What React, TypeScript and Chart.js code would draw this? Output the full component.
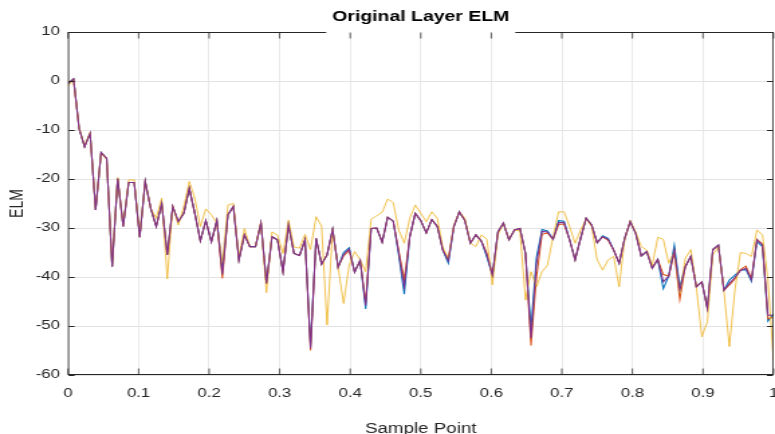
import React, { useEffect, useRef } from 'react';
import { Chart, registerables } from 'chart.js';

Chart.register(...registerables);

const titleText = 'Original Layer ELM';
const xLabel = 'Sample Point';
const yLabel = 'ELM';
const sampleCount = 129;
const samplePoints = Array.from({ length: sampleCount }, (_, i) => i / (sampleCount - 1));

const series1Blue = [
  -0.5, 0.4, -9.7, -13.4, -10.7, -26.3, -14.6, -15.8, -37.9, -19.9,
  -29.7, -20.7, -20.7, -31.9, -20.5, -26, -29.7, -25, -35.5, -25.6,
  -28.7, -27, -21.9, -27, -32.6, -28.5, -32.8, -28.5, -38.5, -27.3,
  -25.6, -36.5, -31.4, -33.8, -33.8, -29, -41.3, -31.8, -32.4, -38.9,
  -29.4, -35.2, -35.6, -32.4, -54, -32.1, -37.4, -35.5, -30.3, -38,
  -35, -34, -39, -36.6, -46.5, -30.1, -30, -32.9, -27.8, -28.6,
  -35.5, -43.5, -31.8, -27, -28.5, -31, -28.3, -29.7, -34.5, -37.2,
  -29.7, -26.7, -28.5, -33.1, -31.4, -32.7, -36, -39.6, -30.8, -29,
  -32.4, -30.4, -30.1, -35.2, -50.5, -36, -30.3, -30.6, -32.3, -28.5,
  -28.6, -32.4, -36.5, -32.1, -28, -29.4, -33, -31.6, -32.1, -34.5,
  -37.2, -32.1, -28.7, -31.1, -35.7, -34.8, -38.2, -36.4, -42.4, -39.8,
  -33.5, -42, -37.9, -35.8, -42, -41, -46.4, -34.4, -33.5, -42.7,
  -40.6, -39.6, -38.6, -38.5, -40.9, -32.8, -33.8, -49, -47.5
];

const series2Red = [
  -0.5, 0.4, -9.7, -13.4, -10.7, -26.3, -14.6, -15.8, -37.9, -19.9,
  -29.7, -20.7, -20.7, -31.9, -20.5, -26, -29.7, -25, -35.5, -25.6,
  -28.7, -27, -21.9, -27, -32.6, -28.5, -32.8, -28.5, -40.3, -27.3,
  -25.6, -36.5, -31.4, -33.8, -33.8, -29, -41.3, -31.8, -32.4, -38.9,
  -29.4, -35.2, -35.6, -32.4, -55, -32.1, -37.4, -35.5, -30.3, -38,
  -35.7, -34.6, -39, -36.6, -45.2, -30.1, -30, -32.9, -27.8, -28.6,
  -34.6, -40.5, -31.8, -27, -28.5, -31, -28.3, -29.7, -34.5, -36.2,
  -29.7, -26.7, -28.5, -33.1, -31.4, -32.7, -35.2, -39.6, -30.8, -29,
  -32.4, -30.4, -30.1, -35.2, -54, -40, -31.3, -31, -32.3, -29.3,
  -29.2, -32.4, -36.5, -32.1, -28, -29.4, -33, -31.8, -32.5, -34.5,
  -37.2, -32.1, -28.7, -31.1, -35.7, -34.8, -38.2, -36.4, -39.5, -39.8,
  -35, -44.6, -37.9, -35.8, -42, -41, -46.4, -34.4, -33.5, -42.7,
  -41.6, -40.4, -38.5, -37.8, -40.4, -32.3, -33.3, -48.5, -48.2
];

const series3Yellow = [
  -1, 0.2, -9.5, -13.2, -10.5, -26, -14.8, -16, -37.5, -19.7,
  -29.5, -20.2, -20.2, -31.5, -20.5, -26, -28, -23.9, -40.4, -25.6,
  -29.4, -25.6, -20.5, -23.9, -29.7, -26.1, -27.3, -29, -37.2, -25.3,
  -25, -35.8, -30.1, -33.8, -33.8, -28.7, -43.2, -30.8, -31.4, -35.2,
  -28.4, -33.9, -34.1, -31.3, -34.4, -27.7, -29.6, -49.8, -30.4, -37.9,
  -45.4, -37.6, -34.8, -36.5, -38.9, -28.2, -27.5, -26.8, -24.1, -24.8,
  -30.4, -33.1, -28, -25.3, -27, -28.7, -26.7, -28, -33.8, -36.5,
  -29.4, -26.7, -28, -33.1, -33.8, -31.4, -32.3, -41.6, -31.4, -29,
  -32.4, -30.4, -30.6, -44.7, -38.9, -42, -38.9, -37.6, -31.8, -26.7,
  -26.7, -29.7, -33.1, -30.4, -28.2, -29.7, -36.5, -38.6, -36.5, -35.8,
  -42, -32.4, -28.5, -30.8, -33.8, -34.5, -37.6, -31.9, -32.3, -37.2,
  -34.8, -43.3, -36.2, -34.4, -42, -52.2, -49.1, -35.5, -33.8, -42.7,
  -54.2, -42.7, -35, -35.2, -35.8, -30.4, -31.4, -40.6, -57
];

const series4Purple = [
  -0.5, 0.4, -9.7, -13.4, -10.7, -26.3, -14.6, -15.8, -37.9, -19.9,
  -29.7, -20.7, -20.7, -31.9, -20.5, -26, -29.7, -25, -35.5, -25.6,
  -28.7, -27, -21.9, -27, -32.6, -28.5, -32.8, -28.5, -39.5, -27.3,
  -25.6, -36.5, -31.4, -33.8, -33.8, -29, -41.3, -31.8, -32.4, -38.9,
  -29.4, -35.2, -35.6, -32.4, -54.6, -32.1, -37.4, -35.5, -30.3, -38,
  -35.4, -34.3, -39, -36.6, -45.8, -30.1, -30, -32.9, -27.8, -28.6,
  -35, -42, -31.8, -27, -28.5, -31, -28.3, -29.7, -34.5, -36.7,
  -29.7, -26.7, -28.5, -33.1, -31.4, -32.7, -35.5, -39.6, -30.8, -29,
  -32.4, -30.4, -30.1, -35.2, -52.5, -37.2, -30.7, -30.8, -32.3, -28.9,
  -28.9, -32.4, -36.5, -32.1, -28, -29.4, -33, -31.8, -32.3, -34.5,
  -37.2, -32.1, -28.7, -31.1, -35.7, -34.8, -38.2, -36.4, -41, -39.8,
  -34.5, -42.7, -37.9, -35.8, -42, -41, -46.4, -34.4, -33.5, -42.7,
  -41.3, -40.1, -38.7, -38.2, -40.6, -32.4, -33.5, -47.8, -47.8
];

const seriesColors = ['#0072BD', '#D95319', '#EDB120', '#7E2F8E'];

// The reference figure is stretched horizontally; reproduce with a narrower
// backing canvas that is displayed at full width.
const DISPLAY_W = 775;
const DISPLAY_H = 434;
const STRETCH = 1.34;
const CANVAS_W = Math.round(DISPLAY_W / STRETCH);

const toPoints = (vals: number[]) => vals.map((v, i) => ({ x: samplePoints[i], y: v }));

const boxPlugin = {
  id: 'matlabBox',
  afterDraw(chart: any) {
    const { ctx, chartArea } = chart;
    const { left, right, top, bottom } = chartArea;
    const xs = chart.scales.x;
    const ys = chart.scales.y;
    ctx.save();
    ctx.strokeStyle = '#262626';
    const T = Math.round(top) + 0.5;
    const B = Math.round(bottom) - 0.5;
    const L = left + 0.4;
    const R = right - 0.4;
    ctx.lineWidth = 1;
    ctx.beginPath();
    ctx.moveTo(left, T);
    ctx.lineTo(right, T);
    ctx.moveTo(left, B);
    ctx.lineTo(right, B);
    ctx.stroke();
    ctx.lineWidth = 0.8;
    ctx.beginPath();
    ctx.moveTo(L, top);
    ctx.lineTo(L, bottom);
    ctx.moveTo(R, top);
    ctx.lineTo(R, bottom);
    ctx.stroke();
    // title background covering part of the top axis line
    const tx = (left + right) / 2;
    ctx.fillStyle = '#ffffff';
    ctx.fillRect(tx - 70.5, T - 3, 141, 3.6);
    const tlv = 6;
    const tlh = 4.5;
    ctx.lineWidth = 0.75;
    ctx.beginPath();
    xs.ticks.forEach((t: any) => {
      const px = xs.getPixelForValue(t.value);
      ctx.moveTo(px, B);
      ctx.lineTo(px, B - tlv);
      ctx.moveTo(px, T);
      ctx.lineTo(px, T + tlv);
    });
    ctx.stroke();
    ctx.lineWidth = 1;
    ctx.beginPath();
    ys.ticks.forEach((t: any) => {
      const py = Math.round(ys.getPixelForValue(t.value)) + 0.5;
      ctx.moveTo(L, py);
      ctx.lineTo(L + tlh, py);
      ctx.moveTo(R, py);
      ctx.lineTo(R - tlh, py);
    });
    ctx.stroke();
    ctx.restore();
  },
};

export default function App() {
  const canvasRef = useRef<HTMLCanvasElement | null>(null);

  useEffect(() => {
    if (!canvasRef.current) return;
    const font = "'Liberation Sans', Arial, Helvetica, sans-serif";
    const chart = new Chart(canvasRef.current, {
      type: 'line',
      data: {
        datasets: [series1Blue, series2Red, series3Yellow, series4Purple].map((vals, k) => ({
          label: `Series ${k + 1}`,
          data: toPoints(vals),
          borderColor: seriesColors[k],
          backgroundColor: seriesColors[k],
          borderWidth: k === 2 ? 0.8 : 1.05,
          pointRadius: 0,
          tension: 0,
          fill: false,
          order: 4 - k,
        })),
      },
      options: {
        animation: false,
        responsive: false,
        maintainAspectRatio: false,
        devicePixelRatio: 1,
        layout: { padding: { left: 0, right: CANVAS_W - 773 / STRETCH, top: 0, bottom: 0 } },
        plugins: {
          legend: { display: false },
          tooltip: { enabled: false },
          title: {
            display: true,
            text: titleText,
            fullSize: false,
            color: '#000000',
            font: { family: font, size: 14.5, weight: 'bold', lineHeight: 1.2 },
            padding: { top: 8, bottom: 6.6 },
          },
        },
        scales: {
          x: {
            type: 'linear',
            min: 0,
            max: 1,
            afterFit: (s: any) => {
              s.height = 59;
              s.paddingLeft = 0;
              s.paddingRight = 0;
            },
            ticks: {
              stepSize: 0.1,
              color: '#262626',
              font: { family: font, size: 12.5 },
              padding: 11,
              maxRotation: 0,
              autoSkip: false,
              callback: (v: any) => String(Math.round(Number(v) * 10) / 10),
            },
            grid: { color: '#e3e3e3', drawTicks: false, lineWidth: 0.75 },
            border: { display: false },
            title: {
              display: true,
              text: xLabel,
              color: '#262626',
              font: { family: font, size: 14, lineHeight: 1 },
              padding: { top: 0, bottom: -2 },
            },
          },
          y: {
            type: 'linear',
            min: -60,
            max: 10,
            afterFit: (s: any) => {
              s.width = 68 / STRETCH;
              s.paddingTop = 0;
              s.paddingBottom = 0;
            },
            ticks: {
              stepSize: 10,
              color: '#262626',
              font: { family: font, size: 12.5 },
              padding: 6,
            },
            grid: { color: '#e3e3e3', drawTicks: false, lineWidth: 1 },
            border: { display: false },
            title: {
              display: true,
              text: yLabel,
              color: '#262626',
              font: { family: font, size: 14, lineHeight: 1.2 },
              padding: { top: 4.3, bottom: 0 },
            },
          },
        },
      },
      plugins: [boxPlugin],
    });
    return () => chart.destroy();
  }, []);

  return (
    <div style={{ position: 'fixed', left: 0, top: 0, width: DISPLAY_W, height: DISPLAY_H, background: '#fff' }}>
      <canvas
        ref={canvasRef}
        width={CANVAS_W}
        height={DISPLAY_H}
        style={{ width: DISPLAY_W, height: DISPLAY_H, display: 'block' }}
      />
    </div>
  );
}
